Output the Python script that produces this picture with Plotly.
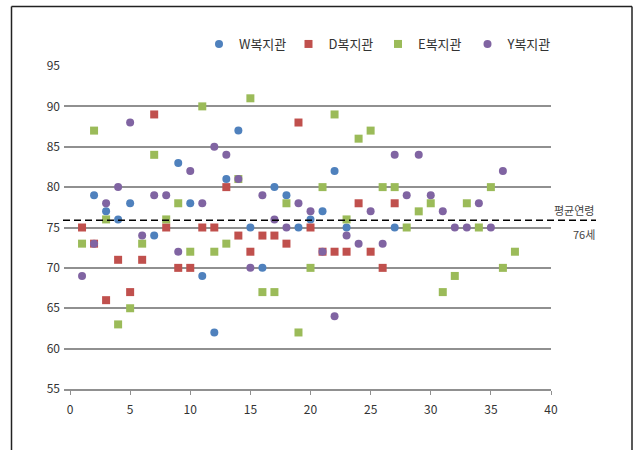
import plotly.graph_objects as go

# ---- data ----
w_x = [2, 3, 4, 5, 7, 9, 10, 11, 12, 13, 14, 15, 16, 17, 18, 19, 20, 21, 22, 23, 27]
w_y = [79, 77, 76, 78, 74, 83, 78, 69, 62, 81, 87, 75, 70, 80, 79, 75, 76, 77, 82, 75, 75]

d_x = list(range(1, 28))
d_y = [75, 73, 66, 71, 67, 71, 89, 75, 70, 70, 75, 75, 80, 74, 72, 74, 74, 73, 88, 75,
       72, 72, 72, 78, 72, 70, 78]

e_x = list(range(1, 38))
e_y = [73, 87, 76, 63, 65, 73, 84, 76, 78, 72, 90, 72, 73, 81, 91, 67, 67, 78, 62, 70,
       80, 89, 76, 86, 87, 80, 80, 75, 77, 78, 67, 69, 78, 75, 80, 70, 72]

y_x = list(range(1, 37))
y_y = [69, 73, 78, 80, 88, 74, 79, 79, 72, 82, 78, 85, 84, 81, 70, 79, 76, 75, 78, 77,
       72, 64, 74, 73, 77, 73, 84, 79, 84, 79, 77, 75, 75, 78, 75, 82]

series_names = ["W복지관", "D복지관", "E복지관", "Y복지관"]
mean_age = 75.9
mean_label_top = "평균연령"
mean_label_bottom = "76세"

# ---- styling ----
colors = ["#4F81BD", "#C0504D", "#9BBB59", "#8064A2"]
symbols = ["circle", "square", "square", "circle"]
FONT = "Noto Sans CJK KR, Noto Sans, sans-serif"

fig = go.Figure()
for name, xs, ys, c, s in zip(series_names, [w_x, d_x, e_x, y_x], [w_y, d_y, e_y, y_y], colors, symbols):
    fig.add_trace(go.Scatter(
        x=xs, y=ys, mode="markers", name=name,
        marker=dict(color=c, symbol=s, size=8, line=dict(width=0)),
    ))

W, H = 635, 450
L, R, T, B = 64, 84, 66, 61
pw, ph = W - L - R, H - T - B

def px_x(p):  # page x -> paper
    return (p - L) / pw

def px_y(p):  # page y -> paper
    return (H - B - p) / ph

GRID = "#909090"

fig.update_layout(
    width=W, height=H,
    margin=dict(l=L, r=R, t=T, b=B, pad=0),
    paper_bgcolor="white", plot_bgcolor="white",
    font=dict(family=FONT, size=12, color="#333333"),
    showlegend=True,
    legend=dict(
        orientation="h", x=px_x(199), y=px_y(44), xanchor="left", yanchor="middle",
        font=dict(size=13, color="#333333"),
        entrywidth=44.5, entrywidthmode="pixels",
        bgcolor="rgba(0,0,0,0)",
    ),
    xaxis=dict(
        range=[-0.5, 40], tickmode="linear", tick0=0, dtick=5,
        showgrid=False, zeroline=False,
        showline=True, linecolor=GRID, linewidth=1.5,
        ticks="outside", ticklen=4, tickcolor=GRID, tickwidth=1,
        ticklabelstandoff=5,
        tickfont=dict(size=12, color="#333333"),
    ),
    yaxis=dict(
        range=[55, 95], tickmode="linear", tick0=55, dtick=5,
        showgrid=True, gridcolor=GRID, gridwidth=1.5,
        zeroline=False, showline=False, ticks="",
        ticklabelstandoff=3,
        tickfont=dict(size=12, color="#333333"),
    ),
)

# mean age dashed line (extends beyond plot area)
fig.add_shape(type="line", xref="paper", yref="y",
              x0=px_x(63), x1=px_x(596), y0=mean_age, y1=mean_age,
              line=dict(color="black", width=1.5, dash="7px,4px"))

fig.add_annotation(xref="paper", yref="paper", x=px_x(596), y=px_y(210),
                   text=mean_label_top, showarrow=False, xanchor="right", yanchor="middle",
                   font=dict(size=11, color="#444444"))
fig.add_annotation(xref="paper", yref="paper", x=px_x(597), y=px_y(234),
                   text=mean_label_bottom, showarrow=False, xanchor="right", yanchor="middle",
                   font=dict(size=11, color="#444444"))

# outer border frame (left, top, right edges; bottom lies below the window)
frame = dict(color="#222222", width=1.5)
fig.add_shape(type="line", xref="paper", yref="paper",
              x0=px_x(11.5), x1=px_x(11.5), y0=px_y(470), y1=px_y(6.5), line=frame)
fig.add_shape(type="line", xref="paper", yref="paper",
              x0=px_x(11.5), x1=px_x(632), y0=px_y(6.5), y1=px_y(6.5), line=frame)
fig.add_shape(type="line", xref="paper", yref="paper",
              x0=px_x(632), x1=px_x(632), y0=px_y(470), y1=px_y(6.5), line=frame)

fig.write_html(
    "out.html",
    config={"displayModeBar": False},
    post_script="document.body.style.margin='0';document.body.style.overflow='hidden';",
)
